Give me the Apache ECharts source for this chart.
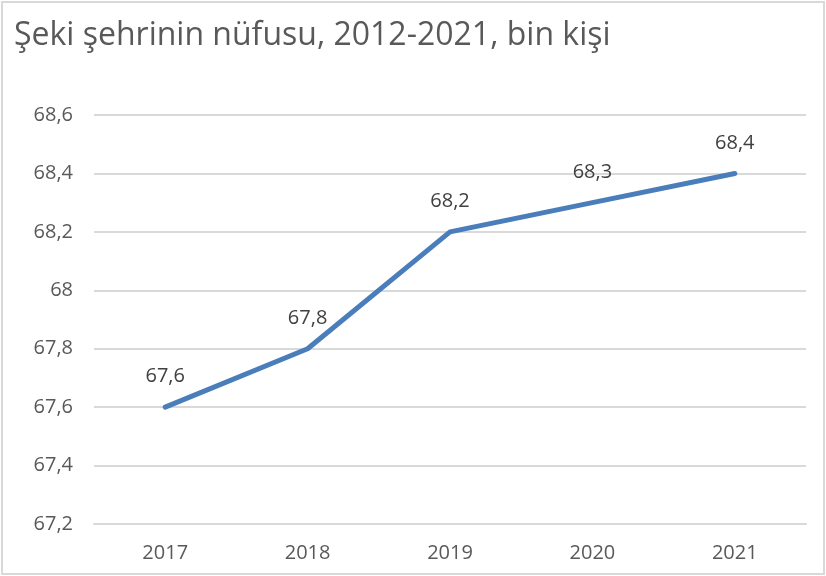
<!DOCTYPE html>
<html>
<head>
<meta charset="utf-8">
<script src="https://cdn.jsdelivr.net/npm/echarts@6/dist/echarts.min.js"></script>
<style>
html,body{margin:0;padding:0;background:#fff;}
#c{position:absolute;left:0;top:0;width:826px;height:576px;}
#frame{position:absolute;left:1px;top:1px;width:820px;height:570px;border:2px solid #d9d9d9;pointer-events:none;}
</style>
</head>
<body>
<div id="c"></div>
<div id="frame"></div>
<script>
const titleText = "Şeki şehrinin nüfusu, 2012-2021, bin kişi";
const years = ["2017", "2018", "2019", "2020", "2021"];
const population = [67.6, 67.8, 68.2, 68.3, 68.4];
const yMin = 67.2, yMax = 68.6, yStep = 0.2;

const fmt = v => String(Math.round(v * 10) / 10).replace('.', ',');
const font = "'Open Sans', 'Liberation Sans', sans-serif";

const chart = echarts.init(document.getElementById('c'), null, {renderer: 'canvas'});
chart.setOption({
  animation: false,
  backgroundColor: '#fff',
  title: {
    text: titleText,
    left: 9, top: 15,
    textStyle: {fontFamily: font, fontSize: 32, fontWeight: 'normal', color: '#595959'}
  },
  grid: {left: 94, right: 20, top: 115, bottom: 52, containLabel: false},
  xAxis: {
    type: 'category',
    data: years,
    boundaryGap: true,
    axisLine: {show: true, lineStyle: {color: '#d9d9d9', width: 2}},
    axisTick: {show: false},
    axisLabel: {color: '#595959', fontFamily: font, fontSize: 20, margin: 19}
  },
  yAxis: {
    type: 'value',
    min: yMin, max: yMax, interval: yStep,
    axisLine: {show: false},
    axisTick: {show: false},
    splitLine: {lineStyle: {color: '#d9d9d9', width: 2}},
    axisLabel: {color: '#595959', fontFamily: font, fontSize: 20, margin: 21, formatter: fmt}
  },
  series: [{
    type: 'line',
    data: population,
    symbol: 'circle',
    symbolSize: 1,
    showSymbol: true,
    itemStyle: {color: '#4a7ebb'},
    lineStyle: {color: '#4a7ebb', width: 5, cap: 'round', join: 'round'},
    label: {
      show: true, position: 'top', distance: 20,
      color: '#404040', fontFamily: font, fontSize: 20,
      formatter: p => fmt(p.value)
    }
  }]
});
</script>
</body>
</html>
